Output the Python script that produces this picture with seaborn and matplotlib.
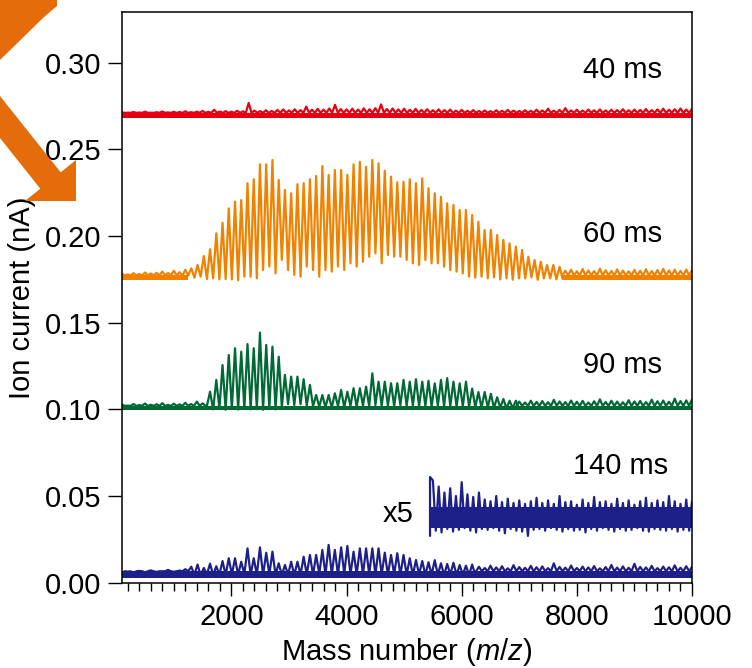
import matplotlib
matplotlib.use("Agg")
import matplotlib.pyplot as plt
import seaborn as sns
from matplotlib.patches import Polygon
from matplotlib.ticker import MultipleLocator, FixedLocator

# ---------------- data ----------------
trace_labels = ["40 ms", "60 ms", "90 ms", "140 ms"]
x_ticks = [2000, 4000, 6000, 8000, 10000]
y_ticks = [0.00, 0.05, 0.10, 0.15, 0.20, 0.25, 0.30]

# m/z of the oscillation peaks (shared by the traces)
peak_mz = [1304, 1412, 1521, 1629, 1738, 1846, 1954, 2063, 2171, 2280,
           2388, 2496, 2605, 2713, 2822, 2930, 3038, 3147, 3255, 3364,
           3472, 3580, 3689, 3797, 3906, 4014, 4122, 4231, 4339, 4448,
           4556, 4664, 4773, 4881, 4990, 5098, 5206, 5315, 5423, 5532,
           5640, 5748, 5857, 5965, 6074, 6182, 6290, 6399, 6507, 6616,
           6724, 6832, 6941, 7049, 7158, 7266, 7374, 7483, 7591, 7700]

# 40 ms (red): baseline band and top of the noise every 100 m/z
red_base, red_solid = 0.2683, 0.2711
red_noise_mz = list(range(100, 10001, 100))
red_noise_top = [.2714, .2712, .2716, .2713, .2718, .2712, .2715, .2719, .2714, .2717,
                 .2716, .2720, .2715, .2718, .2722, .2717, .2729, .2719, .2721, .2718,
                 .2723, .2720, .2768, .2724, .2721, .2726, .2722, .2728, .2731, .2725,
                 .2732, .2727, .2747, .2729, .2734, .2730, .2736, .2757, .2733, .2731,
                 .2735, .2730, .2737, .2732, .2738, .2760, .2733, .2736, .2731, .2735,
                 .2729, .2734, .2728, .2732, .2726, .2731, .2727, .2730, .2724, .2728,
                 .2723, .2727, .2722, .2725, .2721, .2726, .2723, .2728, .2724, .2722,
                 .2726, .2723, .2729, .2725, .2735, .2724, .2728, .2738, .2725, .2729,
                 .2724, .2730, .2726, .2731, .2725, .2729, .2727, .2732, .2726, .2730,
                 .2728, .2733, .2727, .2731, .2735, .2729, .2732, .2736, .2730, .2734]

# 60 ms (orange)
orange_base, orange_solid = 0.1745, 0.1773
orange_peak = [.1814, .1833, .1885, .1924, .2016, .2077, .2160, .2199, .2208, .2305,
               .2328, .2414, .2414, .2439, .2324, .2266, .2247, .2299, .2305, .2328,
               .2347, .2404, .2353, .2381, .2381, .2353, .2414, .2429, .2400, .2439,
               .2420, .2377, .2343, .2310, .2314, .2328, .2305, .2333, .2276, .2247,
               .2227, .2189, .2179, .2151, .2151, .2122, .2083, .2035, .2035, .2006,
               .1978, .1958, .1939, .1920, .1881, .1862, .1852, .1833, .1833, .1823]
orange_trough = [.1760, .1766, .1752, .1756, .1750, .1752, .1750, .1745, .1766, .1766,
                 .1756, .1804, .1824, .1785, .1862, .1804, .1776, .1766, .1824, .1804,
                 .1766, .1804, .1795, .1824, .1804, .1843, .1824, .1852, .1881, .1901,
                 .1843, .1891, .1881, .1881, .1862, .1843, .1833, .1862, .1843, .1843,
                 .1824, .1804, .1795, .1785, .1766, .1760, .1766, .1756, .1762, .1750,
                 .1756, .1748, .1756, .1756, .1762, .1748, .1756, .1756, .1750, .1752]
orange_left_mz = list(range(100, 1201, 100))
orange_left_top = [.1783, .1779, .1786, .1781, .1790, .1784, .1788, .1795, .1787, .1800,
                   .1792, .1805]
orange_right_mz = list(range(7800, 10001, 100))
orange_right_top = [.1800, .1806, .1797, .1810, .1802, .1798, .1812, .1803, .1799, .1808,
                    .1801, .1796, .1805, .1800, .1809, .1798, .1804, .1811, .1802, .1806,
                    .1799, .1807, .1803]

# 90 ms (green): peaks 3 .. 52 of peak_mz
green_first = 3
green_base, green_solid = 0.0995, 0.1020
green_peak = [.1102, .1170, .1256, .1314, .1353, .1333, .1377, .1353, .1443, .1372,
              .1362, .1304, .1199, .1189, .1189, .1174, .1141, .1083, .1083, .1083,
              .1093, .1112, .1102, .1122, .1122, .1131, .1208, .1160, .1160, .1151,
              .1151, .1170, .1160, .1174, .1160, .1165, .1150, .1170, .1180, .1160,
              .1150, .1160, .1120, .1100, .1100, .1090, .1070, .1060, .1050, .1050]
green_trough = [.1000, .1005, .0998, .1002, .0999, .1003, .1000, .1001, .0998, .1004,
                .1000, .1012, .1030, .1025, .1030, .1022, .1018, .1015, .1012, .1010,
                .1018, .1012, .1020, .1015, .1022, .1018, .1025, .1020, .1022, .1018,
                .1025, .1020, .1022, .1018, .1020, .1016, .1022, .1018, .1020, .1015,
                .1018, .1016, .1012, .1010, .1012, .1008, .1010, .1006, .1008, .1005]
green_left_mz = list(range(100, 1501, 100))
green_left_top = [.1028, .1022, .1031, .1025, .1034, .1027, .1030, .1036, .1026, .1033,
                  .1029, .1038, .1031, .1045, .1035]
green_right_mz = list(range(7000, 10001, 100))
green_right_top = [.1045, .1040, .1050, .1043, .1048, .1041, .1055, .1046, .1042, .1051,
                   .1044, .1049, .1040, .1047, .1058, .1043, .1050, .1045, .1041, .1053,
                   .1046, .1049, .1042, .1056, .1047, .1051, .1044, .1062, .1048, .1052,
                   .1057]

# 140 ms (blue): peaks 0 .. 45 of peak_mz
blue_base, blue_solid = 0.0030, 0.0066
blue_peak = [.0092, .0105, .0085, .0110, .0095, .0125, .0141, .0141, .0121, .0198,
             .0141, .0204, .0173, .0179, .0112, .0102, .0121, .0121, .0150, .0160,
             .0160, .0189, .0218, .0189, .0204, .0212, .0179, .0198, .0198, .0198,
             .0198, .0173, .0160, .0170, .0160, .0141, .0131, .0125, .0118, .0130,
             .0112, .0108, .0115, .0102, .0098, .0105]
blue_trough = [.0045, .0042, .0048, .0044, .0046, .0043, .0047, .0045, .0049, .0044,
               .0046, .0043, .0048, .0045, .0044, .0047, .0043, .0046, .0048, .0044,
               .0050, .0046, .0049, .0045, .0051, .0047, .0048, .0046, .0050, .0045,
               .0047, .0044, .0048, .0045, .0046, .0043, .0047, .0044, .0046, .0045,
               .0043, .0047, .0044, .0046, .0045, .0044]
blue_left_mz = list(range(100, 1201, 100))
blue_left_top = [.0058, .0064, .0055, .0068, .0060, .0071, .0062, .0066, .0074, .0063,
                 .0070, .0078]
blue_right_mz = list(range(6300, 10001, 100))
blue_right_top = [.0092, .0085, .0098, .0088, .0095, .0083, .0101, .0090, .0086, .0097,
                  .0089, .0094, .0084, .0112, .0091, .0087, .0099, .0085, .0093, .0088,
                  .0096, .0083, .0090, .0102, .0087, .0094, .0086, .0109, .0091, .0088,
                  .0097, .0084, .0093, .0089, .0100, .0086, .0095, .0091]

# 140 ms x5 magnified part
x5_start_mz, x5_start_lo, x5_start_hi = 5450, 0.0270, 0.0610
x5_band_lo, x5_band_hi = 0.0318, 0.0438
x5_mz = list(range(5500, 10001, 100))
x5_hi = [.0590, .0555, .0520, .0545, .0500, .0580, .0510, .0495, .0520, .0480,
         .0470, .0500, .0465, .0485, .0460, .0475, .0455, .0470, .0490, .0460,
         .0475, .0455, .0500, .0465, .0470, .0450, .0480, .0460, .0495, .0465,
         .0470, .0455, .0485, .0460, .0475, .0450, .0470, .0490, .0460, .0475,
         .0465, .0500, .0470, .0455, .0480, .0470]
x5_lo = [.0300, .0290, .0310, .0295, .0305, .0315, .0300, .0290, .0310, .0305,
         .0315, .0300, .0285, .0310, .0300, .0295, .0270, .0305, .0310, .0300,
         .0315, .0305, .0295, .0310, .0300, .0305, .0290, .0310, .0300, .0315,
         .0305, .0295, .0310, .0300, .0305, .0315, .0300, .0295, .0310, .0305,
         .0300, .0310, .0295, .0305, .0300, .0310]

# ---------------- style ----------------
RED, ORANGE, GREEN, BLUE = "#E60012", "#F08200", "#006934", "#1D2088"
ARROW = "#E46C0A"
FS = 21
LW = 1.6

sns.set_style("ticks")
plt.rcParams["font.family"] = ["Liberation Sans", "DejaVu Sans"]
plt.rcParams["mathtext.fontset"] = "custom"
plt.rcParams["mathtext.rm"] = "Liberation Sans"
plt.rcParams["mathtext.it"] = "Liberation Sans:italic"
plt.rcParams["text.color"] = "black"
plt.rcParams["axes.labelcolor"] = "black"
plt.rcParams["xtick.color"] = "black"
plt.rcParams["ytick.color"] = "black"

fig = plt.figure(figsize=(7.52, 6.68), dpi=100)
ax = fig.add_axes([122 / 752, 1 - 582.7 / 668, 570 / 752, 570.7 / 668])

HALF = 50
PHALF = 54


def comb(ax, mz, tops, low, color):
    xs, ys = [], []
    for m, t in zip(mz, tops):
        xs += [m - HALF, m]
        ys += [low, t]
    xs.append(mz[-1] + HALF)
    ys.append(low)
    sns.lineplot(x=xs, y=ys, sort=False, estimator=None, color=color,
                 lw=LW, ax=ax, legend=False)


def band(ax, x0, x1, lo, hi, color):
    ax.fill_between([x0, x1], [lo, lo], [hi, hi], color=color, lw=0)


def peaks(ax, mz, pk, tr, start_low, color):
    xs, ys = [mz[0] - PHALF], [start_low]
    for m, p, t in zip(mz, pk, tr):
        xs += [m, m + PHALF]
        ys += [p, t]
    sns.lineplot(x=xs, y=ys, sort=False, estimator=None, color=color,
                 lw=LW, ax=ax, legend=False)


# red 40 ms
band(ax, 100, 10000, red_base, red_solid, RED)
comb(ax, red_noise_mz, red_noise_top, red_solid, RED)

# orange 60 ms
band(ax, 100, peak_mz[0] - PHALF, orange_base, orange_solid, ORANGE)
band(ax, peak_mz[-1] + PHALF, 10000, orange_base, orange_solid, ORANGE)
comb(ax, orange_left_mz, orange_left_top, orange_solid, ORANGE)
comb(ax, orange_right_mz, orange_right_top, orange_solid, ORANGE)
peaks(ax, peak_mz, orange_peak, orange_trough, orange_solid, ORANGE)

# green 90 ms
g_mz = peak_mz[green_first:green_first + len(green_peak)]
band(ax, 100, 10000, green_base, green_solid, GREEN)
comb(ax, green_left_mz, green_left_top, green_solid, GREEN)
comb(ax, green_right_mz, green_right_top, green_solid, GREEN)
peaks(ax, g_mz, green_peak, green_trough, green_solid, GREEN)

# blue 140 ms
b_mz = peak_mz[:len(blue_peak)]
band(ax, 100, 10000, blue_base, blue_solid, BLUE)
comb(ax, blue_left_mz, blue_left_top, blue_solid, BLUE)
comb(ax, blue_right_mz, blue_right_top, blue_solid, BLUE)
peaks(ax, b_mz, blue_peak, blue_trough, blue_solid, BLUE)

# x5 magnified
band(ax, x5_start_mz, 10000, x5_band_lo, x5_band_hi, BLUE)
xs = [x5_start_mz, x5_start_mz]
ys = [x5_start_lo, x5_start_hi]
for m, h, l in zip(x5_mz, x5_hi, x5_lo):
    xs += [m, m + HALF]
    ys += [h, l]
sns.lineplot(x=xs, y=ys, sort=False, estimator=None, color=BLUE, lw=LW,
             ax=ax, legend=False)

# ---------------- axes ----------------
ax.set_xlim(100, 10000)
ax.set_ylim(0, 0.3293)
ax.xaxis.set_major_locator(FixedLocator(x_ticks))
ax.xaxis.set_minor_locator(MultipleLocator(200))
ax.yaxis.set_major_locator(FixedLocator(y_ticks))
ax.set_xticklabels([str(v) for v in x_ticks])
ax.set_yticklabels([f"{v:.2f}" for v in y_ticks])
ax.tick_params(axis="both", which="major", direction="out", length=10,
               width=1.0, labelsize=FS, pad=5)
ax.tick_params(axis="x", which="minor", direction="out", length=5.8, width=1.0)
ax.tick_params(axis="x", which="major", length=9.4)
for s in ax.spines.values():
    s.set_visible(True)
    s.set_color("black")
    s.set_linewidth(1.1)

ax.set_xlabel("Mass number ($\\mathit{m/z}$)", fontsize=FS, labelpad=4)
ax.set_ylabel("Ion current (nA)", fontsize=FS, labelpad=6)

# trace labels
ax.text(9479, 0.2958, trace_labels[0], ha="right", va="center", fontsize=FS)
ax.text(9479, 0.2010, trace_labels[1], ha="right", va="center", fontsize=FS)
ax.text(9479, 0.1256, trace_labels[2], ha="right", va="center", fontsize=FS)
ax.text(9583, 0.0671, trace_labels[3], ha="right", va="center", fontsize=FS)
ax.text(5171, 0.0396, "x5", ha="right", va="center", fontsize=FS)

# orange overlay arrows (figure pixel coordinates)
W, H = 752, 668


def fig_poly(pts):
    p = Polygon([(x / W, 1 - y / H) for x, y in pts], closed=True,
                transform=fig.transFigure, facecolor=ARROW, edgecolor="none",
                zorder=10)
    fig.add_artist(p)


fig_poly([(0, 0), (57, 0), (57, 6), (44, 17), (0, 60)])
fig_poly([(0, 96), (60.7, 172.3), (76, 160), (76, 201), (25, 201),
          (40.3, 188.7), (0, 138)])

fig.savefig("out.png", dpi=100)
